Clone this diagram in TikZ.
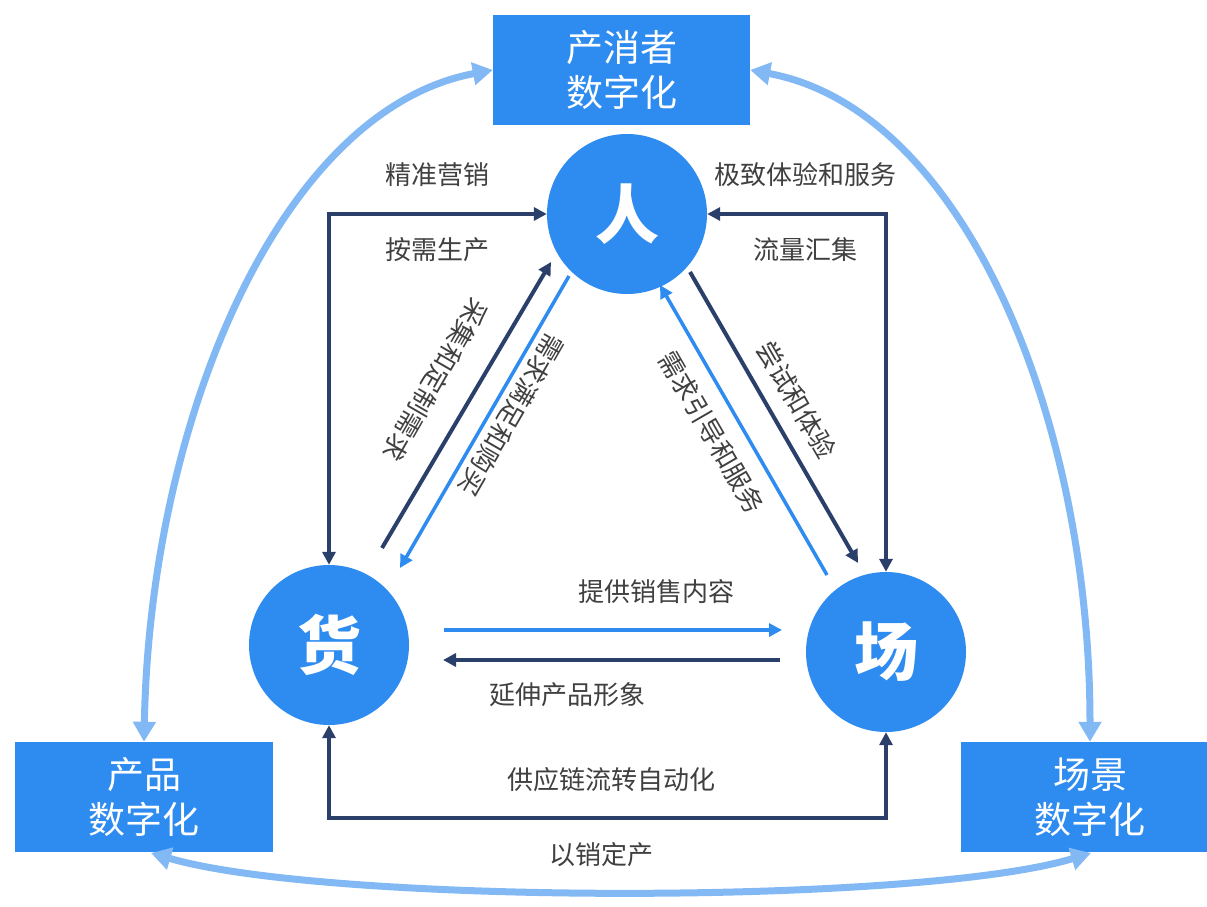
\documentclass[tikz,border=0pt]{standalone}
\usepackage{fontspec}
\setmainfont{Noto Sans CJK SC}
\usetikzlibrary{arrows.meta}
\definecolor{mainblue}{RGB}{46,139,239}
\definecolor{navy}{RGB}{43,63,107}
\definecolor{lightblue}{RGB}{130,185,245}
\definecolor{textgray}{RGB}{64,64,64}
\begin{document}
\begin{tikzpicture}[x=1pt,y=-1pt,
  navyline/.style={draw=navy, line width=4pt},
  blueline/.style={draw=mainblue, line width=3.5pt},
  arcline/.style={draw=lightblue, line width=7pt, {Triangle[length=20pt,width=22pt]}-{Triangle[length=20pt,width=22pt]}},
  tipend/.style={-{Triangle[length=13pt,width=13pt]}},
  tipboth/.style={{Triangle[length=13pt,width=13pt]}-{Triangle[length=13pt,width=13pt]}},
  circ/.style={circle, fill=mainblue, minimum size=160pt, inner sep=0pt, text=white, font=\bfseries\fontsize{64}{64}\selectfont},
  dbox/.style={rectangle, fill=mainblue, inner sep=0pt, minimum width=258pt, minimum height=110pt, text=white, align=center, font=\fontsize{37}{45}\selectfont},
  lbl/.style={text=textgray, font=\fontsize{26}{30}\selectfont, inner sep=0pt}
]
\useasboundingbox (0,0) rectangle (1207,907);
\fill[white] (0,0) rectangle (1207,907);

% boxes
\node[dbox, minimum width=257pt] (top) at (621.5,70) {产消者\\数字化};
\node[dbox] (lbox) at (144,797) {产品\\数字化};
\node[dbox] (rbox) at (1090,797) {场景\\数字化};

% circles
\node[circ] (ren) at (627,214) {人};
\node[circ] (huo) at (329,645) {货};
\node[circ] (chang) at (886,652) {场};

% light arcs
\coordinate (bl) at (151,853);
\coordinate (br) at (1091,853);
\draw[arcline] (top.west) .. controls (280,110) and (150,420) .. (lbox.north);
\draw[arcline] (top.east) .. controls (965,110) and (1090,420) .. (rbox.north);
\draw[arcline] (bl) .. controls (330,905) and (920,905) .. (br);

% elbow connectors
\coordinate (bot) at (600,818);
\draw[navyline, tipboth] (huo.north) |- (ren.west);
\draw[navyline, tipboth] (ren.east) -| (chang.north);
\draw[navyline, tipboth] (huo.south) |- (bot) -| (chang.south);

% horizontal arrows
\coordinate (a1) at (444,630); \coordinate (a2) at (782,630);
\coordinate (b1) at (780,660); \coordinate (b2) at (443,660);
\draw[blueline, tipend] (a1) -- (a2);
\draw[navyline, tipend] (b1) -- (b2);

% diagonal arrows
\coordinate (c1) at (382,548); \coordinate (c2) at (551,262);
\coordinate (d1) at (569,276); \coordinate (d2) at (400,568);
\coordinate (e1) at (827,575); \coordinate (e2) at (660,285);
\coordinate (f1) at (690,272); \coordinate (f2) at (858,563);
\draw[navyline, tipend] (c1) -- (c2);
\draw[blueline, tipend] (d1) -- (d2);
\draw[blueline, tipend] (e1) -- (e2);
\draw[navyline, tipend] (f1) -- (f2);

% labels
\node[lbl] (l1) at (437,175) {精准营销};
\node[lbl] (l2) at (437,250) {按需生产};
\node[lbl] (l3) at (805,175) {极致体验和服务};
\node[lbl] (l4) at (805,250) {流量汇集};
\node[lbl] (l5) at (656,592) {提供销售内容};
\node[lbl] (l6) at (567,695) {延伸产品形象};
\node[lbl] (l7) at (611,780) {供应链流转自动化};
\node[lbl] (l8) at (601,855) {以销定产};
\node[lbl, rotate=-120] (l9) at (436,380) {采集和定制需求};
\node[lbl, rotate=-120] (l10) at (512,415) {需求满足和购买};
\node[lbl, rotate=-60] (l11) at (712,432) {需求引导和服务};
\node[lbl, rotate=-60] (l12) at (797,400) {尝试和体验};
\end{tikzpicture}
\end{document}
